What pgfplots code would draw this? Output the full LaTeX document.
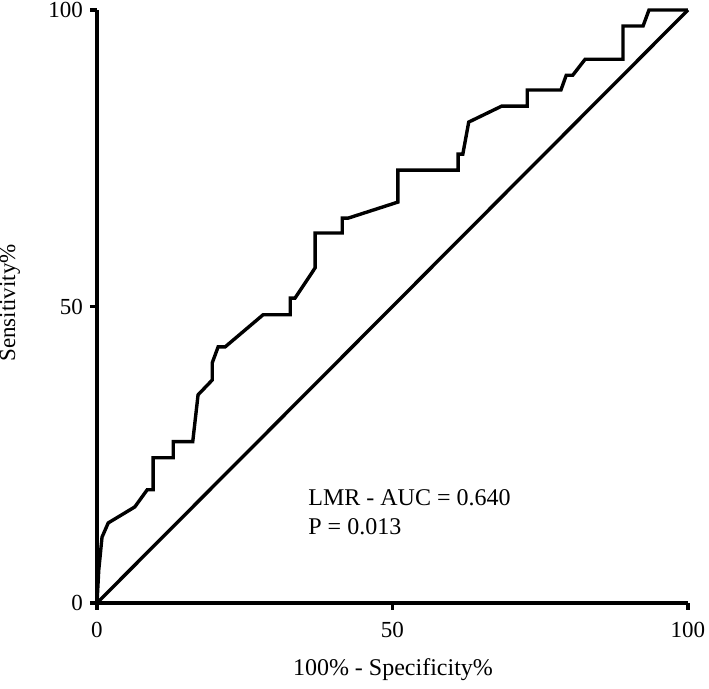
\documentclass[border=0pt]{standalone}
\usepackage{fontspec}
\setmainfont{Liberation Serif}
\usepackage{pgfplots}
\pgfplotsset{compat=1.18}

\begin{document}
\begin{tikzpicture}
\begin{axis}[
  scale only axis,
  width=295.5pt, height=296.5pt,
  xmin=0, xmax=100, ymin=0, ymax=100,
  axis lines=left,
  axis line style={line width=1.7pt, -},
  xtick={0,50,100}, ytick={0,50,100},
  tick align=outside,
  major tick length=3.5pt,
  tick style={line width=1.7pt, black},
  tick label style={font=\fontsize{11.5}{13}\selectfont},
  xticklabel style={yshift=-2.5pt},
  /pgf/number format/assume math mode=true,
  clip=false,
]
%% ROC curve (LMR)
\addplot[line width=1.7pt, black, line join=miter] coordinates {
  (0,0) (0.3,5.6) (0.85,11.1) (1.9,13.5) (6.4,16.2) (8.5,19.1) (9.5,19.1)
  (9.5,24.5) (12.9,24.5) (12.9,27.2) (16.2,27.2) (17.1,35.1) (19.5,37.6)
  (19.5,40.5) (20.5,43.2) (21.7,43.2) (28.1,48.6) (32.7,48.6) (32.7,51.4)
  (33.5,51.4) (36.9,56.5) (36.9,62.4) (41.5,62.4) (41.5,64.9) (42.5,64.9)
  (50.9,67.6) (50.9,73.0) (61.1,73.0) (61.1,75.7) (61.9,75.7) (62.9,81.1)
  (68.5,83.8) (72.8,83.8) (72.8,86.5) (78.5,86.5) (79.4,89.0) (80.5,89.0)
  (82.6,91.7) (89.0,91.7) (89.0,97.3) (92.4,97.3) (93.4,100) (100,100)
};
%% reference diagonal
\addplot[line width=1.7pt, black] coordinates {(0,0) (100,100)};
\node[anchor=base west, inner sep=0pt, font=\fontsize{12}{14}\selectfont] at (axis cs:35.7,16.5) {LMR - AUC = 0.640};
\node[anchor=base west, inner sep=0pt, font=\fontsize{12}{14}\selectfont] at (axis cs:35.7,11.5) {P = 0.013};
\end{axis}
\node[font=\fontsize{12}{14}\selectfont] at (148pt,-33.5pt) {100\% - Specificity\%};
\node[rotate=90, font=\fontsize{11.5}{13}\selectfont] at (-43.5pt,150pt) {Sensitivity\%};
\pgfresetboundingbox
\path (-48.5pt,-43pt) rectangle (306pt,301.5pt);
\end{tikzpicture}
\end{document}
